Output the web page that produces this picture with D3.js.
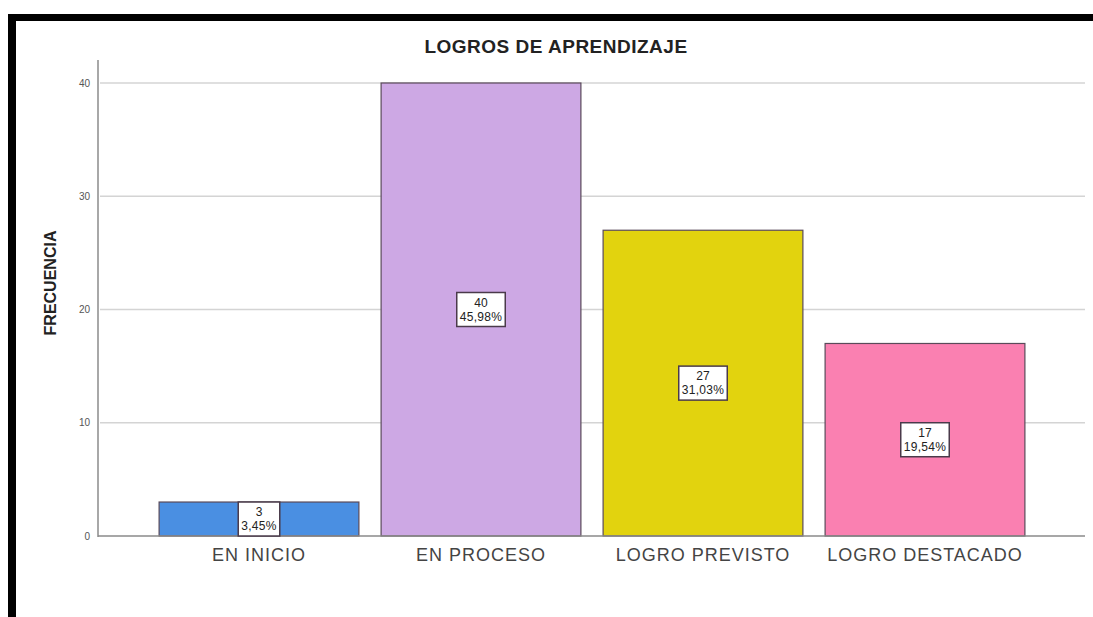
<!DOCTYPE html>
<html>
<head>
<meta charset="utf-8">
<script src="https://cdn.jsdelivr.net/npm/d3@7"></script>
<style>
  body { margin: 0; background: #fff; }
  svg { display: block; font-family: "Liberation Sans", Arial, sans-serif; }
</style>
</head>
<body>
<script>
const categorias = ["EN INICIO", "EN PROCESO", "LOGRO PREVISTO", "LOGRO DESTACADO"];
const frecuencias = [3, 40, 27, 17];
const porcentajes = ["3,45%", "45,98%", "31,03%", "19,54%"];
const colores = ["#4a8fe2", "#cda8e4", "#e2d30e", "#fa80b1"];
const ticksY = [0, 10, 20, 30, 40];

const width = 1093, height = 617;

const svg = d3.select("body")
  .append("svg")
  .attr("width", width)
  .attr("height", height);

// marco negro
svg.append("rect").attr("x", 8).attr("y", 14).attr("width", width).attr("height", 7).attr("fill", "#000");
svg.append("rect").attr("x", 8).attr("y", 14).attr("width", 8).attr("height", height).attr("fill", "#000");

const x = d3.scaleBand()
  .domain(categorias)
  .range([148, 1036])
  .paddingInner(0.1)
  .paddingOuter(0.05);

const y = d3.scaleLinear()
  .domain([0, 40])
  .range([536, 83]);

// lineas de cuadricula
svg.append("g")
  .selectAll("line")
  .data(ticksY.filter(d => d > 0))
  .enter()
  .append("line")
  .attr("x1", 100).attr("x2", 1085)
  .attr("y1", d => y(d)).attr("y2", d => y(d))
  .attr("stroke", "#d4d4d4")
  .attr("stroke-width", 1.5);

// eje y
const ejeY = svg.append("g")
  .attr("transform", "translate(98,0)")
  .call(d3.axisLeft(y).tickValues(ticksY).tickSize(0).tickPadding(8));
ejeY.select(".domain").remove();
ejeY.selectAll("text").attr("font-size", 10).attr("fill", "#555");
svg.append("line")
  .attr("x1", 98).attr("x2", 98)
  .attr("y1", 60).attr("y2", y(0) + 1)
  .attr("stroke", "#a8a8a8").attr("stroke-width", 2);

// barras
svg.append("g")
  .selectAll("rect")
  .data(categorias)
  .enter()
  .append("rect")
  .attr("x", d => x(d))
  .attr("y", (d, i) => y(frecuencias[i]))
  .attr("width", x.bandwidth())
  .attr("height", (d, i) => y(0) - y(frecuencias[i]))
  .attr("fill", (d, i) => colores[i])
  .attr("stroke", "#5a4a5a")
  .attr("stroke-width", 1.2);

// linea base
svg.append("line")
  .attr("x1", 98).attr("x2", 1085)
  .attr("y1", y(0)).attr("y2", y(0))
  .attr("stroke", "#8a8a8a").attr("stroke-width", 1.5);

// etiquetas de las barras
const etiquetas = svg.append("g")
  .selectAll("g")
  .data(categorias)
  .enter()
  .append("g")
  .attr("transform", (d, i) => `translate(${x(d) + x.bandwidth() / 2},${(y(0) + y(frecuencias[i])) / 2})`);

const cajas = etiquetas.append("rect")
  .attr("y", -17)
  .attr("height", 34)
  .attr("fill", "#fff")
  .attr("stroke", "#4a3a4a")
  .attr("stroke-width", 1.5);

etiquetas.append("text")
  .attr("text-anchor", "middle")
  .attr("y", -3)
  .attr("font-size", 12)
  .attr("fill", "#222")
  .text((d, i) => frecuencias[i]);

const textoPct = etiquetas.append("text")
  .attr("text-anchor", "middle")
  .attr("y", 11)
  .attr("font-size", 12)
  .attr("letter-spacing", 0.3)
  .attr("fill", "#222")
  .text((d, i) => porcentajes[i]);

textoPct.each(function(d, i) {
  const w = this.getComputedTextLength() + 6;
  d3.select(cajas.nodes()[i]).attr("x", -w / 2).attr("width", w);
});

// eje x
svg.append("g")
  .selectAll("text")
  .data(categorias)
  .enter()
  .append("text")
  .attr("x", d => x(d) + x.bandwidth() / 2)
  .attr("y", 561)
  .attr("text-anchor", "middle")
  .attr("font-size", 18)
  .attr("letter-spacing", 1)
  .attr("fill", "#444")
  .text(d => d);

// titulo
svg.append("text")
  .attr("x", 556).attr("y", 53)
  .attr("text-anchor", "middle")
  .attr("font-size", 19)
  .attr("letter-spacing", 0.5)
  .attr("font-weight", "bold")
  .attr("fill", "#222")
  .text("LOGROS DE APRENDIZAJE");

svg.append("text")
  .attr("transform", "translate(56,283) rotate(-90)")
  .attr("text-anchor", "middle")
  .attr("font-size", 16)
  .attr("font-weight", "bold")
  .attr("fill", "#222")
  .text("FRECUENCIA");
</script>
</body>
</html>
